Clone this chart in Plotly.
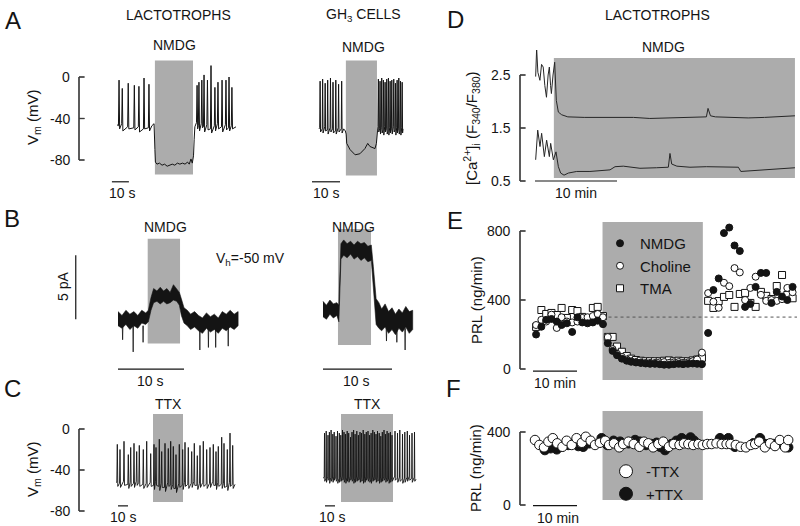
import plotly.graph_objects as go

W, H = 800, 526
FONT = "Liberation Sans, Arial, Helvetica, sans-serif"
INK = "#141414"
SHADE = "#acacac"
AXC = "#3c3c3c"

# ======================= DATA =======================
# ---- Panel A, lactotrophs: time (s), Vm (mV)
A1_pre_t = [1.2, 3.1, 6.6, 10.2, 12.9, 15.9, 18.8]
A1_pre_peak = [-3, -11, -6, -8, -9, -1, -7]
A1_pre_base = [-47, -45, -48, -49, -48, -50, -49]
A1_pre_ahp = [-50, -52, -50, -51, -53, -50, -52]
A1_mid_t = [20.5, 21.8, 22.3, 22.6, 23.5, 25, 26.5, 28, 29.5, 31, 32.5, 34, 35.5, 37, 38.5, 40, 41.5, 42.5, 43.5, 44.3, 45.0, 45.4, 45.8]
A1_mid_v = [-47, -45, -70, -82, -84, -83, -85, -84, -86, -85, -84, -85, -83, -84, -83, -84, -82, -84, -79, -83, -76, -60, -48]
A1_post_t = [47.1, 48.2, 49.9, 51.2, 53.2, 55.3, 57.6, 59.4, 61.8, 64.1, 65.9, 67.6]
A1_post_peak = [-8, -5, -3, 2, -3, 11, -10, -5, -3, -3, 0, -10]
A1_post_base = [-44, -47, -45, -48, -46, -50, -47, -45, -48, -46, -49, -47]
A1_post_ahp = [-50, -52, -49, -53, -51, -54, -52, -50, -53, -51, -52, -50]
A1_ends = [(0.0, -46), (70.0, -48)]
A1_shade_t, A1_shade_v = [22.3, 44.7], [16, -94]
A1_bar_t = [-3, 7]

# ---- Panel A, GH3 cells
A2_pre_t = [0.4, 1.3, 2.2, 3.1, 4.1, 5.0, 6.0, 7.0, 8.1]
A2_pre_peak = [-4, -2, -6, -3, -1, -5, -3, -7, -4]
A2_pre_base = [-49, -50, -48, -51, -49, -50, -52, -49, -50]
A2_pre_ahp = [-53, -54, -52, -55, -53, -54, -55, -53, -54]
A2_mid_t = [8.8, 9.4, 9.7, 9.9, 11.1, 12.9, 14.6, 16.4, 17.4, 18.2, 20.0, 20.5, 20.9]
A2_mid_v = [-50, -52, -55, -64, -70, -75, -74, -69, -64, -67, -69, -64, -52]
A2_post_t = [21.2, 21.8, 22.4, 23.0, 23.6, 24.2, 24.8, 25.4, 26.0, 26.7, 27.3, 27.9, 28.5, 29.1, 29.7]
A2_post_peak = [-2, -4, -1, -3, -5, -2, -1, -4, -3, -2, -6, -3, -1, -4, -5]
A2_post_base = [-48, -50, -49, -51, -48, -50, -52, -49, -50, -48, -51, -49, -50, -52, -49]
A2_post_ahp = [-53, -55, -54, -56, -53, -55, -56, -54, -55, -53, -56, -54, -55, -56, -54]
A2_ends = [(0.0, -50), (30.0, -50)]
A2_shade_t, A2_shade_v = [9.6, 20.7], [16, -95]
A2_bar_t = [-2.5, 7.5]

# ---- Panel D: Ca2+ ratio vs time (min)
D_top_t = [0.08, 0.2, 0.35, 0.6, 0.8, 1.0, 1.2, 1.4, 1.6, 1.75, 1.9, 2.0, 2.2, 2.4, 2.6, 2.85, 3.25, 4, 6, 8,
           10, 12, 14, 16, 18, 20, 20.9, 21.1, 21.4, 22, 24, 26, 28, 30, 31.7]
D_top_v = [2.47, 3.0, 2.55, 2.4, 2.7, 2.65, 2.3, 2.08, 2.5, 2.65, 2.3, 2.15, 2.5, 2.74, 2.02, 1.8, 1.75, 1.71, 1.70, 1.70,
           1.69, 1.70, 1.68, 1.69, 1.70, 1.70, 1.71, 1.87, 1.73, 1.71, 1.70, 1.69, 1.70, 1.72, 1.73]
D_bot_t = [0.08, 0.33, 0.61, 0.81, 1.14, 1.42, 1.75, 1.91, 2.24, 2.56, 2.85, 3.13, 3.54, 4.07, 5.08, 6.7, 9.15,
           9.76, 10.77, 12.8, 14.8, 16.26, 16.46, 16.67, 17.3, 18.9, 20.9, 23.0, 24.8, 25.1, 27.0, 29.9, 31.7]
D_bot_v = [0.90, 1.46, 1.15, 1.40, 0.96, 1.27, 0.96, 1.21, 0.90, 1.05, 0.77, 0.65, 0.61, 0.65, 0.68, 0.68, 0.71,
           0.77, 0.78, 0.74, 0.75, 0.76, 1.02, 0.82, 0.78, 0.76, 0.77, 0.76, 0.76, 0.68, 0.70, 0.74, 0.75]
D_shade_t, D_shade_v = [2.3, 31.7], [2.82, 0.557]
D_bar_t = [0, 10]
D_ticks = [0.5, 1.5, 2.5]

# ---- Panel B, lactotrophs: time (s), current (pA)
B1_t = [0, 0.6, 1.2, 1.8, 2.4, 3.0, 3.6, 4.2, 4.6, 5.0, 5.4, 5.9, 6.4, 6.9, 7.4, 7.9, 8.4, 8.9, 9.3, 9.6,
        10.0, 10.5, 11.0, 11.6, 12.2, 12.8, 13.4, 14.0, 14.6, 15.2, 15.8, 16.4, 17.0, 17.6, 18.2]
B1_upper = [0.5, 0.2, 0.6, 0.3, 0.5, 0.2, 0.6, 0.4, 0.6, 1.6, 2.3, 2.1, 2.4, 2.1, 2.3, 2.0, 2.6, 2.3, 2.0, 1.5,
            0.8, 0.6, 0.3, 0.5, 0.2, 0.0, 0.4, 0.1, 0.3, 0.0, 0.5, 0.3, 0.6, 0.3, 0.5]
B1_lower = [-0.6, -0.8, -0.5, -0.9, -0.6, -0.8, -0.4, -0.5, -0.3, 0.6, 1.2, 1.3, 1.1, 1.3, 1.1, 1.2, 1.4, 1.3, 1.0, 0.2,
            -0.4, -0.6, -0.9, -0.7, -1.0, -1.2, -0.8, -1.1, -0.9, -1.2, -0.8, -1.0, -0.7, -0.9, -0.6]
B1_event_t = [0.7, 2.3, 3.8, 12.4, 13.7, 14.8, 16.7]
B1_event_v = [-1.7, -2.65, -1.9, -2.5, -2.3, -2.3, -2.2]
B1_shade_t, B1_shade_v = [4.5, 9.4], [6.2, -2.0]
B1_bar_t = [0, 10]
B1_pA_bar = [-0.1, 4.9]

# ---- Panel B, GH3 cells
B2_t = [0, 0.5, 1.0, 1.5, 2.0, 2.3, 2.6, 3.0, 3.5, 4.0, 4.5, 5.0, 5.5, 6.0, 6.5, 7.0, 7.3, 7.7, 8.1, 8.5,
        9.0, 9.5, 10.0, 10.5, 11.0, 11.5, 12.0, 12.5, 13.0]
B2_upper = [1.3, 1.0, 1.4, 1.1, 1.2, 1.0, 5.8, 6.1, 5.8, 6.0, 5.7, 6.0, 5.8, 5.9, 5.6, 5.7, 4.0, 1.5, 1.2, 0.7,
            1.1, 0.5, 0.8, 0.3, 0.7, 0.4, 0.9, 0.5, 0.6]
B2_lower = [0.1, -0.1, 0.3, 0.0, 0.2, -0.3, 4.6, 4.9, 4.7, 5.0, 4.6, 4.8, 4.5, 4.7, 4.4, 4.5, 2.5, -0.5, -0.8, -1.0,
            -0.7, -1.2, -0.9, -1.3, -0.8, -1.1, -0.7, -1.2, -0.9]
B2_event_t = [9.2, 10.7, 11.9]
B2_event_v = [-1.8, -1.9, -2.5]
B2_shade_t, B2_shade_v = [2.17, 6.96], [6.95, -2.1]
B2_bar_t = [0, 10]

# ---- Panel E: PRL release (ng/min) vs time (min)
E_t = [0.7, 1.9, 3.0, 4.2, 5.4, 6.5, 7.7, 8.9, 10.1, 11.2, 12.4, 13.6, 14.7, 15.9,
       17.0, 18.1, 19.1, 20.2, 21.3, 22.3, 23.4, 24.5, 25.6, 26.6, 27.7, 28.8, 29.8, 30.9, 32.0, 33.1, 34.1, 35.2, 36.3, 37.3, 38.4,
       39.8, 41.0, 42.2, 43.4, 44.6, 45.8, 47.0, 48.2, 49.4, 50.6, 51.8, 53.0, 54.2, 55.4, 56.6, 57.8, 59.0]
E_nmdg = [200, 245, 285, 290, 275, 255, 265, 215, 300, 270, 265, 270, 280, 260,
          150, 105, 80, 60, 48, 42, 38, 35, 32, 30, 30, 28, 25, 25, 28, 30, 28, 30, 32, 30, 28,
          209, 458, 525, 788, 820, 716, 684, 360, 377, 476, 557, 557, 383, 447, 420, 400, 476]
E_choline = [255, 285, 275, 315, 238, 300, 275, 270, 275, 296, 300, 307, 319, 300,
             185, 115, 88, 70, 55, 45, 40, 38, 35, 35, 35, 38, 40, 35, 38, 40, 35, 38, 45, 55, 95,
             440, 390, 355, 500, 480, 585, 560, 400, 470, 535, 430, 395, 400, 395, 405, 470, 445]
E_tma = [244, 342, 319, 325, 313, 354, 296, 342, 336, 302, 278, 354, 360, 307,
         186, 186, 130, 100, 75, 60, 52, 48, 45, 45, 45, 45, 48, 50, 45, 48, 45, 45, 50, 55, 65,
         395, 354, 394, 418, 429, 360, 435, 441, 383, 360, 447, 424, 406, 481, 545, 429, 410]
E_basal_level = 301
E_shade_t, E_shade_v = [15.8, 38.6], [852, -64]
E_bar_t = [0, 10]
E_ticks = [0, 400, 800]

# ---- Panel C, lactotrophs (TTX): time (s), Vm (mV)
C1_t = [1.3, 4, 8, 12.3, 14.7, 18, 20.7, 23.3, 27.3, 30.7, 34.7, 38, 40, 43.3, 45.7, 49, 52.3, 54.7, 57.3, 60,
        63.3, 66.7, 69, 72.3, 75.7, 78.3, 81.3, 84, 87.3, 90.7, 94, 97.3, 100, 102.3, 105.7, 108, 111.3, 114, 116.7]
C1_peak = [-15, -20, -12, -25, -18, -14, -22, -16, -20, -12, -24, -15, -18, -10, -22, -14, -19, -12, -17, -25,
           -15, -20, -13, -18, -22, -14, -26, -16, -12, -20, -18, -15, -22, -17, -8, -14, -20, -4, -16]
C1_base = [-52, -53, -51, -54, -52, -53, -51, -52, -54, -53, -52, -55, -51, -56, -53, -57, -52, -55, -54, -58,
           -53, -55, -52, -54, -53, -51, -55, -53, -52, -54, -53, -51, -55, -52, -54, -53, -56, -52, -54]
C1_ahp = [-56, -57, -55, -58, -56, -57, -55, -56, -58, -57, -56, -59, -55, -60, -57, -61, -56, -59, -58, -62,
          -57, -59, -56, -58, -57, -55, -59, -57, -56, -58, -57, -55, -59, -56, -58, -57, -60, -56, -58]
C1_ends = [(0.0, -52), (119.0, -54)]
C1_shade_t, C1_shade_v = [37, 67], [14.6, -71.2]
C1_bar_t = [2, 12]

# ---- Panel C, GH3 cells (TTX)
C2_t = [1.5, 3.2, 5.0, 6.4, 8.1, 9.8, 11.2, 13.0, 14.5, 16.3, 17.8, 19.5, 21.0, 22.6, 24.2, 25.7, 27.5, 29.0,
        30.6, 32.1, 33.8, 35.4, 37.0, 38.5, 40.2, 41.8, 43.3, 45.0, 46.6, 48.1, 49.8, 51.4, 53.0, 54.5, 56.2,
        57.8, 59.3, 61.0, 62.6, 64.1, 65.8, 67.4, 69.0, 72.0, 74.5, 76.8, 79.5, 81.8, 84.3, 86.5, 89.0, 91.5]
C2_peak = [-4, -2, -6, -3, -1, -5, -3, -7, -2, -4, -6, -1, -3, -5, -2, -4, -8, -3, -1, -5, -2, -6, -3, -4, -1, -5,
           -3, -2, -6, -4, -1, -3, -5, -2, -4, -7, -3, -1, -5, -2, -4, -3, -6, -2, -4, -1, -5, -3, -2, -6, -4, -3]
C2_base = [-47, -48, -46, -49, -47, -48, -46, -47, -49, -48, -47, -46, -48, -49, -47, -48, -46, -47, -49, -48,
           -47, -46, -48, -47, -49, -48, -46, -47, -48, -49, -47, -46, -48, -47, -49, -48, -47, -46, -48, -47,
           -49, -48, -47, -46, -48, -47, -49, -48, -47, -46, -48, -47]
C2_ahp = [-51, -52, -50, -53, -51, -52, -50, -51, -53, -52, -51, -50, -52, -53, -51, -52, -50, -51, -53, -52,
          -51, -50, -52, -51, -53, -52, -50, -51, -52, -53, -51, -50, -52, -51, -53, -52, -51, -50, -52, -51,
          -53, -52, -51, -50, -52, -51, -53, -52, -51, -50, -52, -51]
C2_ends = [(0.0, -48), (93.0, -49)]
C2_shade_t, C2_shade_v = [18, 70], [14.6, -71.2]
C2_bar_t = [2, 12]
Vm_ticks = [-80, -40, 0]

# ---- Panel F: PRL release with / without TTX
F_minus_t = [0.45, 1.44, 2.5, 3.5, 4.5, 5.5, 6.7, 7.65, 8.8, 9.9, 11.1, 12.0, 13.1, 14.1, 15.2, 16.4, 17.3, 18.4,
             19.6, 20.5, 21.7, 22.9, 24.2, 25.2, 26.2, 27.3, 28.5, 29.6, 30.9, 32.0, 33.3, 34.3, 35.3, 36.4, 37.6,
             38.6, 39.6, 40.6, 41.7, 42.9, 44.0, 44.9, 46.1, 47.2, 48.4, 49.5, 50.5, 51.4, 52.7, 53.9, 55.0, 56.1, 57.3, 58.0]
F_minus = [356, 329, 316, 347, 366, 338, 319, 352, 329, 366, 341, 374, 352, 329, 341, 352, 329, 338, 316, 334,
           347, 334, 319, 347, 338, 316, 334, 347, 319, 334, 329, 338, 334, 329, 334, 329, 334, 334, 338, 334,
           334, 334, 329, 319, 316, 329, 334, 347, 316, 338, 323, 356, 316, 356]
F_plus_t = [2.7, 4.0, 5.4, 6.5, 8.0, 9.2, 10.3, 11.4, 12.8, 15.6, 16.9, 18.3, 19.8, 21.7, 23.2, 24.3, 25.7, 26.9,
            28.1, 28.9, 30.0, 31.5, 32.6, 33.8, 35.8, 36.6, 42.5, 44.4, 45.9, 50.1, 51.6, 52.7, 54.6, 56.9, 58.0]
F_plus = [301, 311, 305, 319, 329, 338, 323, 319, 338, 366, 329, 352, 347, 338, 356, 347, 329, 334, 341, 319,
          301, 334, 352, 366, 370, 352, 366, 366, 319, 338, 366, 334, 334, 329, 316]
F_shade_t, F_shade_v = [15.8, 38.6], [515, 27]
F_bar_t = [0, 10]
F_ticks = [0, 400]

# ======================= HELPERS =======================
fig = go.Figure()
axes = {}
shapes = []
annotations = []
MAPS = {}


def xn(n):
    return "x" if n == 1 else "x%d" % n


def yn(n):
    return "y" if n == 1 else "y%d" % n


def data_axes(n, box, xmap, ymap):
    x0, x1, top, bottom = box
    ox, sx = xmap
    oy, sy = ymap
    MAPS[n] = (xmap, ymap)
    axes["xaxis" if n == 1 else "xaxis%d" % n] = dict(
        domain=[x0 / W, x1 / W], range=[(x0 - ox) / sx, (x1 - ox) / sx],
        visible=False, fixedrange=True, anchor=yn(n))
    axes["yaxis" if n == 1 else "yaxis%d" % n] = dict(
        domain=[1 - bottom / H, 1 - top / H], range=[(oy - bottom) / sy, (oy - top) / sy],
        visible=False, fixedrange=True, anchor=xn(n))


def bracket(n, xpx, ticks, ticklen=5.5, standoff=7):
    """Bracket-style y axis (line, inside ticks, labels) placed on data panel n's own scales."""
    (ox, sx), _ = MAPS[n]
    xa = (xpx - ox) / sx
    tl = ticklen / sx
    lo, hi = min(ticks), max(ticks)
    bx, by = [xa, xa, None], [lo, hi, None]
    for v in ticks:
        bx += [xa, xa + tl, None]
        by += [v, v, None]
    fig.add_trace(go.Scatter(x=bx, y=by, xaxis=xn(n), yaxis=yn(n), mode="lines",
                             line=dict(color=AXC, width=1.2), showlegend=False, hoverinfo="skip"))
    shapes.append(dict(type="line", xref=xn(n), yref=yn(n), x0=xa, x1=xa, y0=lo, y1=hi,
                       line=dict(color=AXC, width=1.2), layer="above"))
    for v in ticks:
        shapes.append(dict(type="line", xref=xn(n), yref=yn(n), x0=xa, x1=xa + tl, y0=v, y1=v,
                           line=dict(color=AXC, width=1.2), layer="above"))
        annotations.append(dict(text="%g" % v, x=xa - standoff / sx, y=v, xref=xn(n), yref=yn(n),
                                showarrow=False, xanchor="right", yanchor="middle",
                                font=dict(family=FONT, size=14, color=INK)))


def shade(n, ts, vs):
    shapes.append(dict(type="rect", xref=xn(n), yref=yn(n), x0=ts[0], x1=ts[1], y0=vs[1], y1=vs[0],
                       fillcolor=SHADE, line=dict(width=0), layer="below"))


def hbar(n, ts, level, width=1.2):
    fig.add_trace(go.Scatter(x=ts, y=[level, level], xaxis=xn(n), yaxis=yn(n), mode="lines",
                             line=dict(color=INK, width=width), showlegend=False, hoverinfo="skip"))


def spikes(ts, peaks, bases, ahps, half):
    xs, ys = [], []
    for t, p, b, a in zip(ts, peaks, bases, ahps):
        xs += [t - half, t, t + half]
        ys += [b, p, a]
    return xs, ys


def line(n, xs, ys, width=1.0, color=INK):
    fig.add_trace(go.Scatter(x=xs, y=ys, xaxis=xn(n), yaxis=yn(n), mode="lines",
                             line=dict(color=color, width=width), showlegend=False, hoverinfo="skip"))


def band(n, ts, up, low):
    fig.add_trace(go.Scatter(x=list(ts) + list(ts)[::-1], y=list(up) + list(low)[::-1],
                             xaxis=xn(n), yaxis=yn(n), mode="lines", fill="toself",
                             fillcolor=INK, line=dict(color=INK, width=0.6),
                             showlegend=False, hoverinfo="skip"))


def events(n, ts, vs, start):
    xs, ys = [], []
    for t, v in zip(ts, vs):
        xs += [t - 0.05, t, t + 0.05, None]
        ys += [start, v, start, None]
    line(n, xs, ys, width=0.8)


def ann(text, x, y, size=14, angle=0, xanchor="center"):
    annotations.append(dict(text=text, x=x / W, y=1 - y / H, xref="paper", yref="paper",
                            showarrow=False, xanchor=xanchor, yanchor="middle", textangle=angle,
                            font=dict(family=FONT, size=size, color=INK)))


# ======================= AXES =======================
VM = (77, 1.0375)
data_axes(1, (70, 250, 50, 205), (117, 1.7), VM)           # A lactotrophs
data_axes(2, (300, 425, 50, 205), (319, 2.8), VM)          # A GH3
data_axes(3, (510, 800, 50, 200), (535, 8.2), (207.5, 53))  # D
data_axes(4, (60, 250, 215, 395), (118, 6.6), (318, 12.8))  # B lactotrophs
data_axes(5, (300, 430, 215, 395), (323, 6.9), (318, 12.8))  # B GH3
data_axes(6, (510, 800, 212, 395), (533, 4.4), (369, 0.1725))  # E
VMC = (429, 1.025)
data_axes(7, (70, 250, 398, 526), (116, 1.0), VMC)          # C lactotrophs
data_axes(8, (300, 430, 398, 526), (323, 1.0), VMC)         # C GH3
data_axes(9, (510, 800, 398, 526), (533, 4.4), (505, 0.1825))  # F

bracket(1, 79, Vm_ticks)
bracket(3, 520, D_ticks)
bracket(6, 520, E_ticks)
bracket(7, 79, Vm_ticks)
bracket(9, 520, F_ticks)

# ======================= TRACES =======================
shade(1, A1_shade_t, A1_shade_v)
xa, ya = spikes(A1_pre_t, A1_pre_peak, A1_pre_base, A1_pre_ahp, 0.35)
xb, yb = spikes(A1_post_t, A1_post_peak, A1_post_base, A1_post_ahp, 0.35)
line(1, [A1_ends[0][0]] + xa + A1_mid_t + xb + [A1_ends[1][0]],
     [A1_ends[0][1]] + ya + A1_mid_v + yb + [A1_ends[1][1]], width=1.0)
hbar(1, A1_bar_t, -101)

shade(2, A2_shade_t, A2_shade_v)
xa, ya = spikes(A2_pre_t, A2_pre_peak, A2_pre_base, A2_pre_ahp, 0.15)
xb, yb = spikes(A2_post_t, A2_post_peak, A2_post_base, A2_post_ahp, 0.15)
line(2, [A2_ends[0][0]] + xa + A2_mid_t + xb + [A2_ends[1][0]],
     [A2_ends[0][1]] + ya + A2_mid_v + yb + [A2_ends[1][1]], width=1.0)
hbar(2, A2_bar_t, -101)

shade(3, D_shade_t, D_shade_v)
line(3, D_top_t, D_top_v, width=1.0, color="#262626")
line(3, D_bot_t, D_bot_v, width=1.0, color="#262626")
hbar(3, D_bar_t, 0.5)

shade(4, B1_shade_t, B1_shade_v)
band(4, B1_t, B1_upper, B1_lower)
events(4, B1_event_t, B1_event_v, -0.6)
hbar(4, B1_bar_t, -4.0)
fig.add_trace(go.Scatter(x=[-6.4, -6.4], y=B1_pA_bar, xaxis=xn(4), yaxis=yn(4), mode="lines",
                         line=dict(color=INK, width=1.2), showlegend=False, hoverinfo="skip"))

shade(5, B2_shade_t, B2_shade_v)
band(5, B2_t, B2_upper, B2_lower)
events(5, B2_event_t, B2_event_v, -0.8)
hbar(5, B2_bar_t, -4.0)

shade(6, E_shade_t, E_shade_v)
fig.add_trace(go.Scatter(x=[E_shade_t[0], 60], y=[E_basal_level, E_basal_level], xaxis=xn(6), yaxis=yn(6),
                         mode="lines", line=dict(color="#555555", width=1, dash="dot"),
                         showlegend=False, hoverinfo="skip"))
fig.add_trace(go.Scatter(x=E_t, y=E_tma, xaxis=xn(6), yaxis=yn(6), mode="markers", name="TMA",
                         marker=dict(symbol="square", size=7, color="white", line=dict(color=INK, width=1)),
                         legend="legend", legendrank=3, hoverinfo="skip"))
fig.add_trace(go.Scatter(x=E_t, y=E_choline, xaxis=xn(6), yaxis=yn(6), mode="markers", name="Choline",
                         marker=dict(symbol="circle", size=7, color="white", line=dict(color=INK, width=1)),
                         legend="legend", legendrank=2, hoverinfo="skip"))
fig.add_trace(go.Scatter(x=E_t, y=E_nmdg, xaxis=xn(6), yaxis=yn(6), mode="markers", name="NMDG",
                         marker=dict(symbol="circle", size=7, color=INK, line=dict(color=INK, width=1)),
                         legend="legend", legendrank=1, hoverinfo="skip"))
hbar(6, E_bar_t, -12)

shade(7, C1_shade_t, C1_shade_v)
xa, ya = spikes(C1_t, C1_peak, C1_base, C1_ahp, 0.5)
line(7, [C1_ends[0][0]] + xa + [C1_ends[1][0]], [C1_ends[0][1]] + ya + [C1_ends[1][1]], width=0.9)
hbar(7, C1_bar_t, -75)

shade(8, C2_shade_t, C2_shade_v)
xa, ya = spikes(C2_t, C2_peak, C2_base, C2_ahp, 0.3)
line(8, [C2_ends[0][0]] + xa + [C2_ends[1][0]], [C2_ends[0][1]] + ya + [C2_ends[1][1]], width=0.9)
hbar(8, C2_bar_t, -75)

shade(9, F_shade_t, F_shade_v)
fig.add_trace(go.Scatter(x=F_plus_t, y=F_plus, xaxis=xn(9), yaxis=yn(9), mode="markers",
                         marker=dict(symbol="circle", size=9.5, color=INK, line=dict(color=INK, width=1)),
                         showlegend=False, hoverinfo="skip"))
fig.add_trace(go.Scatter(x=F_minus_t, y=F_minus, xaxis=xn(9), yaxis=yn(9), mode="markers",
                         marker=dict(symbol="circle", size=9.5, color="white", line=dict(color=INK, width=1)),
                         showlegend=False, hoverinfo="skip"))
fig.add_trace(go.Scatter(x=[None], y=[None], xaxis=xn(9), yaxis=yn(9), mode="markers", name="-TTX",
                         marker=dict(symbol="circle", size=13, color="white", line=dict(color=INK, width=1)),
                         legend="legend2", legendrank=1, hoverinfo="skip"))
fig.add_trace(go.Scatter(x=[None], y=[None], xaxis=xn(9), yaxis=yn(9), mode="markers", name="+TTX",
                         marker=dict(symbol="circle", size=13, color=INK, line=dict(color=INK, width=1)),
                         legend="legend2", legendrank=2, hoverinfo="skip"))
hbar(9, F_bar_t, -3)

# ======================= TEXT =======================
for letter, x, y in [("A", 13, 21), ("B", 12, 218), ("C", 12, 388), ("D", 455, 20), ("E", 455, 220), ("F", 453, 388)]:
    ann(letter, x, y, size=24)
ann("LACTOTROPHS", 178, 15)
ann("GH<sub>3</sub> CELLS", 363, 15)
ann("LACTOTROPHS", 657, 15)
for x, y in [(174, 45), (363, 47), (663, 47), (165, 227), (353, 227)]:
    ann("NMDG", x, y)
ann("TTX", 168, 404)
ann("TTX", 367, 404)
ann("V<sub>h</sub>=-50 mV", 251, 259)
ann("5 pA", 63, 287, angle=-90)
for x, y in [(122, 193), (326, 193), (150, 381), (356, 381), (123, 517), (332, 517)]:
    ann("10 s", x, y)
for x, y in [(576, 193), (555, 383), (558, 518)]:
    ann("10 min", x, y)
ann("V<sub>m</sub> (mV)", 33, 118, size=15, angle=-90)
ann("V<sub>m</sub> (mV)", 33, 470, size=15, angle=-90)
ann("[Ca<sup>2+</sup>]<sub>i</sub> (F<sub>340</sub>/F<sub>380</sub>)", 472, 128, size=15, angle=-90)
ann("PRL (ng/min)", 476, 300, size=15, angle=-90)
ann("PRL (ng/min)", 476, 468, size=15, angle=-90)

fig.update_layout(
    width=W, height=H, margin=dict(l=0, r=0, t=0, b=0, autoexpand=False),
    paper_bgcolor="white", plot_bgcolor="rgba(0,0,0,0)",
    font=dict(family=FONT, size=14, color=INK),
    shapes=shapes, annotations=annotations,
    legend=dict(x=600 / W, y=1 - 227 / H, xanchor="left", yanchor="top", bgcolor="rgba(0,0,0,0)",
                font=dict(family=FONT, size=15, color=INK), itemwidth=30, tracegroupgap=0),
    legend2=dict(x=606 / W, y=1 - 455 / H, xanchor="left", yanchor="top", bgcolor="rgba(0,0,0,0)",
                 font=dict(family=FONT, size=15, color=INK), itemwidth=30, tracegroupgap=0),
    **axes,
)

fig.write_html("out.html", config={"displayModeBar": False, "staticPlot": True},
               post_script="document.body.style.margin='0px';")
